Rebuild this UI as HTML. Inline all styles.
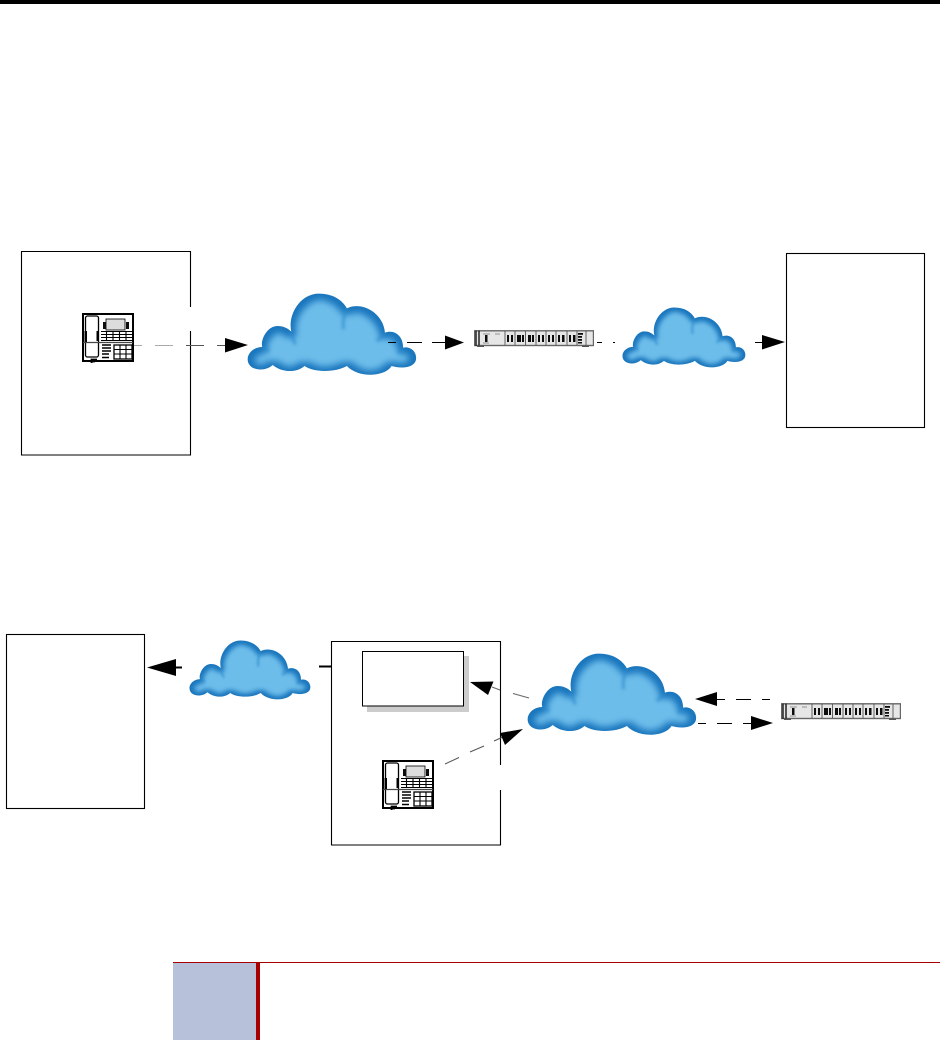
<!DOCTYPE html>
<html><head><meta charset="utf-8"><style>html,body{margin:0;padding:0;background:#fff}svg{display:block}</style></head><body>
<svg width="940" height="1040" viewBox="0 0 940 1040" xmlns="http://www.w3.org/2000/svg">
<defs>
<filter id="inner" x="-5%" y="-5%" width="110%" height="110%" color-interpolation-filters="sRGB">
<feMorphology in="SourceAlpha" operator="erode" radius="15" result="e"/>
<feOffset in="e" dx="0" dy="3" result="o"/>
<feGaussianBlur in="o" stdDeviation="10" result="b"/>
<feFlood flood-color="#6dbdea"/>
<feComposite in2="b" operator="in" result="l"/>
<feComposite in="l" in2="SourceAlpha" operator="in"/>
</filter>
<filter id="soft" x="-20%" y="-20%" width="140%" height="140%"><feGaussianBlur stdDeviation="5"/></filter>
<filter id="r" x="-5%" y="-5%" width="110%" height="110%"><feGaussianBlur stdDeviation=".28"/></filter>
<path id="cp" d="M560 205C560 185 580 168 604 168C598 145 620 105 650 105C668 105 682 112 692 122C680 70 720 8 775 8C815 8 845 25 860 52C905 30 970 65 975 125C1005 115 1030 135 1030 170C1055 165 1072 185 1069 205C1066 228 1030 235 995 225C975 258 895 262 860 225C825 245 760 245 732 225C705 248 660 243 636 222C610 245 560 238 560 205Z"/>
<clipPath id="cc"><use href="#cp"/></clipPath>
<symbol id="cloud" viewBox="558 6 514 252" preserveAspectRatio="none">
<use href="#cp" fill="#1a76bd"/>
<use href="#cp" fill="#000" filter="url(#inner)"/>
<g clip-path="url(#cc)"><path d="M692 122Q695 145 705 160M860 52Q845 85 850 115M975 125Q965 140 950 150M1030 170Q1025 180 1015 185M604 168Q615 172 625 180" fill="none" stroke="#2a88cc" stroke-width="8" opacity=".75" filter="url(#soft)"/></g>
</symbol>
<symbol id="phone" viewBox="0 0 52 50" preserveAspectRatio="none">
<g filter="url(#r)">
<rect x="1" y="1" width="50" height="47" fill="#fff" stroke="#000" stroke-width="2"/>
<rect x="3.500" y="3" width="13" height="41" rx="2" fill="#fff" stroke="#000" stroke-width="1.300"/>
<rect x="2.500" y="18" width="2.500" height="11" fill="#000"/>
<rect x="14.500" y="18" width="2" height="10" fill="#000"/>
<rect x="24" y="6" width="19" height="11" fill="#ddd" stroke="#000" stroke-width=".8"/>
<rect x="21" y="9" width="3" height="7" fill="#111"/><rect x="44" y="9" width="3" height="7" fill="#111"/>
<path d="M19 18.500H50M19 21.500H50M19 24.500H50M19 27.500H50M24.500 18V27.500M31 18V27.500M37.500 18V27.500M44 18V27.500" stroke="#000" stroke-width="1.100" fill="none"/>
<path d="M1 29.500H51" stroke="#444" stroke-width="1.200"/>
<path d="M20 32H29M20 35H29M20 38H29M20 41H27M20 44.500H27" stroke="#000" stroke-width="1.500"/>
<rect x="32" y="32" width="18" height="14" fill="#fff" stroke="#000" stroke-width="1.300"/>
<path d="M32 36.500H50M32 41H50M38 32V46M44 32V46" stroke="#000" stroke-width="1.100"/>
<path d="M15 46.500H9.500V50.500H13" stroke="#000" stroke-width="1.800" fill="none"/>
</g>
</symbol>
<symbol id="rack" viewBox="0 0 120 17" preserveAspectRatio="none">
<g filter="url(#r)">
<rect x=".5" y=".8" width="119" height="14.700" fill="#e6e6e6" stroke="#666" stroke-width="1.400"/>
<path d="M2 .5V16M5 .5V16" stroke="#222" stroke-width="1.500"/>
<rect x="11" y="5" width="2.500" height="7" fill="#111"/>
<path d="M9 4H16M9 13H15M21 4H26" stroke="#777" stroke-width=".8"/>
<rect x="3" y="15.500" width="7" height="1.500" fill="#555"/><rect x="108" y="15.500" width="7" height="1.500" fill="#555"/>
<g fill="#111">
<rect x="33" y="5" width="2" height="7"/><rect x="37" y="5" width="2" height="7"/>
<rect x="43" y="5" width="4" height="7"/><rect x="48" y="5" width="2" height="7"/>
<rect x="54" y="5" width="3" height="7"/><rect x="58" y="5" width="2" height="7"/>
<rect x="64" y="5" width="2" height="7"/><rect x="68" y="5" width="2" height="7"/>
<rect x="74" y="5" width="2" height="7"/><rect x="78" y="5" width="2" height="7"/>
<rect x="84" y="5" width="2" height="7"/><rect x="88" y="5" width="2.500" height="7"/>
<rect x="95" y="5" width="2" height="7"/><rect x="99" y="5" width="2.500" height="7"/>
<rect x="104" y="3" width="5" height="1.800"/><rect x="104" y="6" width="4" height="1.800"/><rect x="104" y="9" width="4" height="1.800"/><rect x="104" y="12" width="4" height="1.500"/>
</g>
<path d="M31 1V15M41 1V15M51.500 1V15M62 1V15M72 1V15M82 1V15M93 1V15M103 1V15M112 1V15" stroke="#555" stroke-width=".9"/>
</g>
</symbol>
</defs>

<rect x="0" y="0" width="940" height="4" fill="#000"/>

<!-- Top diagram -->
<g fill="none" stroke="#000" stroke-width="1.100">
<path d="M190.500 307V251.500H21.500V455H190.500V331"/>
<rect x="786.500" y="253.500" width="138" height="174"/>
</g>
<use href="#phone" x="82" y="313" width="52" height="50"/>
<use href="#cloud" x="247" y="293" width="170" height="84"/>
<use href="#cloud" x="622" y="307" width="124" height="62"/>
<use href="#rack" x="474" y="330" width="120" height="17"/>
<g stroke-width="1" fill="none">
<path d="M134 345.500H142M155 345.500H173" stroke="#aaa"/>
<path d="M186 345.500H204M217 345.500H225" stroke="#555"/>
<path d="M388 342.500H396M407 342.500H422M432 342.500H446M597 342.500H602M613 342.500H615M755 342.500H763" stroke="#000"/>
</g>
<g fill="#000">
<path d="M225 338L248 345L225 352.500Z"/>
<path d="M445 335.500L464 342.500L445 349.500Z"/>
<path d="M762 335L785 342L762 349.500Z"/>
</g>

<!-- Bottom diagram -->
<g fill="none" stroke="#000" stroke-width="1.100">
<rect x="6.500" y="634.500" width="138" height="174"/>
<path d="M500.500 765V641.500H331.500V845H500.500V790"/>
</g>
<rect x="367" y="656" width="102" height="56" fill="#ccc"/>
<rect x="362.500" y="651.500" width="101" height="54.500" fill="#fff" stroke="#000" stroke-width="1"/>
<use href="#phone" x="382" y="760" width="52" height="50"/>
<use href="#cloud" x="189" y="640" width="122" height="61"/>
<use href="#cloud" x="527" y="653" width="170" height="84"/>
<use href="#rack" x="781" y="703" width="120" height="17"/>
<g fill="none">
<path d="M176 667.500H182M319 666.500H331" stroke="#000" stroke-width="2"/>
<path d="M717 699.500H725M736 699.500H751M762 699.500H770M698 723.500H706M717 723.500H732M743 723.500H752" stroke="#000" stroke-width="1.100"/>
<path d="M492 687L500 690M513 693.500L529 698" stroke="#666"/>
<path d="M445 764L459 757.500M470 752L484 746M494 741L503 737" stroke="#555"/>
</g>
<g fill="#000">
<path d="M147 667.500L176 659V676Z"/>
<path d="M470 682L493.500 681.500L488 695Z"/>
<path d="M523 729L500 733L505 745Z"/>
<path d="M695 699L717 692V706Z"/>
<path d="M751 716L773 723L751 730Z"/>
</g>

<!-- Callout -->
<rect x="173" y="962" width="767" height="1" fill="#a80000"/>
<rect x="173" y="963" width="83" height="77" fill="#b7c1d9"/>
<rect x="256" y="963" width="4" height="77" fill="#a80000"/>
</svg>
</body></html>
